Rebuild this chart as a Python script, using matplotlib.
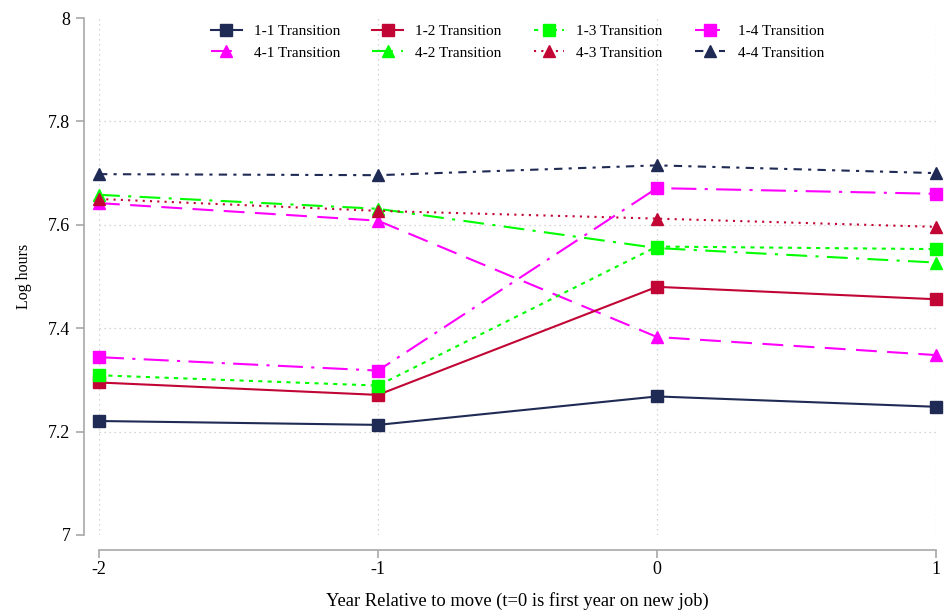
import matplotlib.pyplot as plt

years = [-2, -1, 0, 1]

t11 = [7.2205, 7.213, 7.268, 7.248]
t12 = [7.295, 7.271, 7.480, 7.456]
t13 = [7.309, 7.289, 7.558, 7.553]
t14 = [7.344, 7.318, 7.671, 7.660]
t41 = [7.642, 7.608, 7.383, 7.348]
t42 = [7.658, 7.631, 7.555, 7.527]
t43 = [7.650, 7.627, 7.612, 7.596]
t44 = [7.698, 7.696, 7.715, 7.700]

navy = "#1f2b55"
cranberry = "#c10534"
lime = "#00ff00"
magenta = "#ff00ff"

plt.rcParams["font.family"] = ["Liberation Serif", "DejaVu Serif"]

fig = plt.figure(figsize=(9.48, 6.11), dpi=100)
ax = fig.add_axes([0.1044, 0.1244, 0.8829, 0.8461])

series = [
    ("1-1 Transition", t11, navy, "-", "s"),
    ("4-1 Transition", t41, magenta, (0, (10, 5)), "^"),
    ("1-2 Transition", t12, cranberry, "-", "s"),
    ("4-2 Transition", t42, lime, (0, (10, 4, 1.5, 4)), "^"),
    ("1-3 Transition", t13, lime, (0, (2, 2.5)), "s"),
    ("4-3 Transition", t43, cranberry, (0, (1, 2.5)), "^"),
    ("1-4 Transition", t14, magenta, (0, (12, 4, 1.5, 4)), "s"),
    ("4-4 Transition", t44, navy, (0, (4, 3, 1.5, 3)), "^"),
]

# draw grid lines by hand so only the interior y levels get one
for yv in [7.2, 7.4, 7.6, 7.8]:
    ax.axhline(yv, color="#c8c8c8", lw=0.9, ls=(0, (1, 3)), zorder=0)
for xv in years:
    ax.axvline(xv, color="#c8c8c8", lw=0.9, ls=(0, (1, 3)), zorder=0)

for label, vals, col, ls, mk in series:
    ax.plot(years, vals, color=col, ls=ls, lw=1.5, marker=mk,
            markersize=8, label=label, clip_on=False)

ax.set_xlim(-2, 1)
ax.set_ylim(7, 8)
ax.set_xticks(years)
ax.set_xticklabels(["-2", "-1", "0", "1"])
ax.set_yticks([7, 7.2, 7.4, 7.6, 7.8, 8])
ax.set_yticklabels(["7", "7.2", "7.4", "7.6", "7.8", "8"])

for side in ["top", "right"]:
    ax.spines[side].set_visible(False)
ax.spines["left"].set_position(("outward", 11))
ax.spines["bottom"].set_position(("outward", 11))
for side in ["left", "bottom"]:
    ax.spines[side].set_color("#a8a8a8")
    ax.spines[side].set_linewidth(1.2)
ax.tick_params(colors="#a8a8a8", labelcolor="black", length=6, width=1.2,
               labelsize=13)
ax.tick_params(axis="x", pad=2)

ax.set_ylabel("Log hours", fontsize=11.5, labelpad=12)
ax.set_xlabel("Year Relative to move (t=0 is first year on new job)",
              fontsize=13.3, labelpad=10)

ax.legend(ncol=4, loc="upper center", bbox_to_anchor=(0.5, 1.014),
          frameon=False, fontsize=11, handlelength=2.0, handletextpad=0.8,
          columnspacing=2.1, labelspacing=0.5)

fig.savefig("out.png", dpi=100)
